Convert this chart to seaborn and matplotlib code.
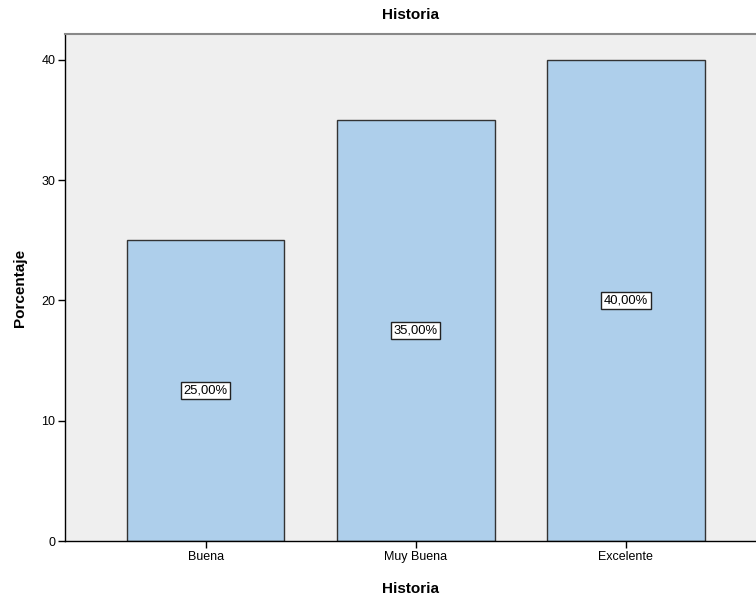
import pandas as pd
import matplotlib
matplotlib.use('Agg')
import matplotlib.pyplot as plt
import seaborn as sns

categorias = ['Buena', 'Muy Buena', 'Excelente']
porcentajes = [25.0, 35.0, 40.0]
etiquetas = ['25,00%', '35,00%', '40,00%']
ticks_y = [0, 10, 20, 30, 40]

df = pd.DataFrame({'Historia': categorias, 'Porcentaje': porcentajes})

sns.set_style('white')
plt.rcParams['font.family'] = ['Liberation Sans', 'DejaVu Sans']
plt.rcParams['text.color'] = 'black'
plt.rcParams['axes.labelcolor'] = 'black'
plt.rcParams['xtick.color'] = 'black'
plt.rcParams['ytick.color'] = 'black'

fig = plt.figure(figsize=(7.56, 5.98), dpi=100)
ax = fig.add_axes([65 / 756, 57 / 598, 1 - 65 / 756, 507 / 598])
ax.set_facecolor('#efefef')

sns.barplot(data=df, x='Historia', y='Porcentaje', color='#aecfeb', width=0.75,
            edgecolor='#333333', linewidth=1, saturation=1, ax=ax)

for i, (v, t) in enumerate(zip(porcentajes, etiquetas)):
    ax.text(i, v / 2, t, ha='center', va='center', fontsize=9.4,
            bbox=dict(facecolor='white', edgecolor='#222222', boxstyle='square,pad=0.2', linewidth=1))

ax.set_xlim(-0.67, 2.62)
ax.set_ylim(0, 42.16)
ax.set_yticks(ticks_y)
ax.tick_params(axis='both', labelsize=9, length=5, width=1, color='black', direction='out',
               bottom=True, left=True, pad=2)
for s in ['left', 'bottom']:
    ax.spines[s].set_color('black')
    ax.spines[s].set_linewidth(1)
ax.spines['top'].set_color('#888888')
ax.spines['top'].set_linewidth(1.5)
ax.spines['right'].set_visible(False)

ax.set_title('Historia', fontsize=11, fontweight='bold', pad=11)
ax.set_xlabel('Historia', fontsize=11, fontweight='bold', labelpad=14)
ax.set_ylabel('Porcentaje', fontsize=11, fontweight='bold', labelpad=10)

fig.savefig('out.png', dpi=100)
